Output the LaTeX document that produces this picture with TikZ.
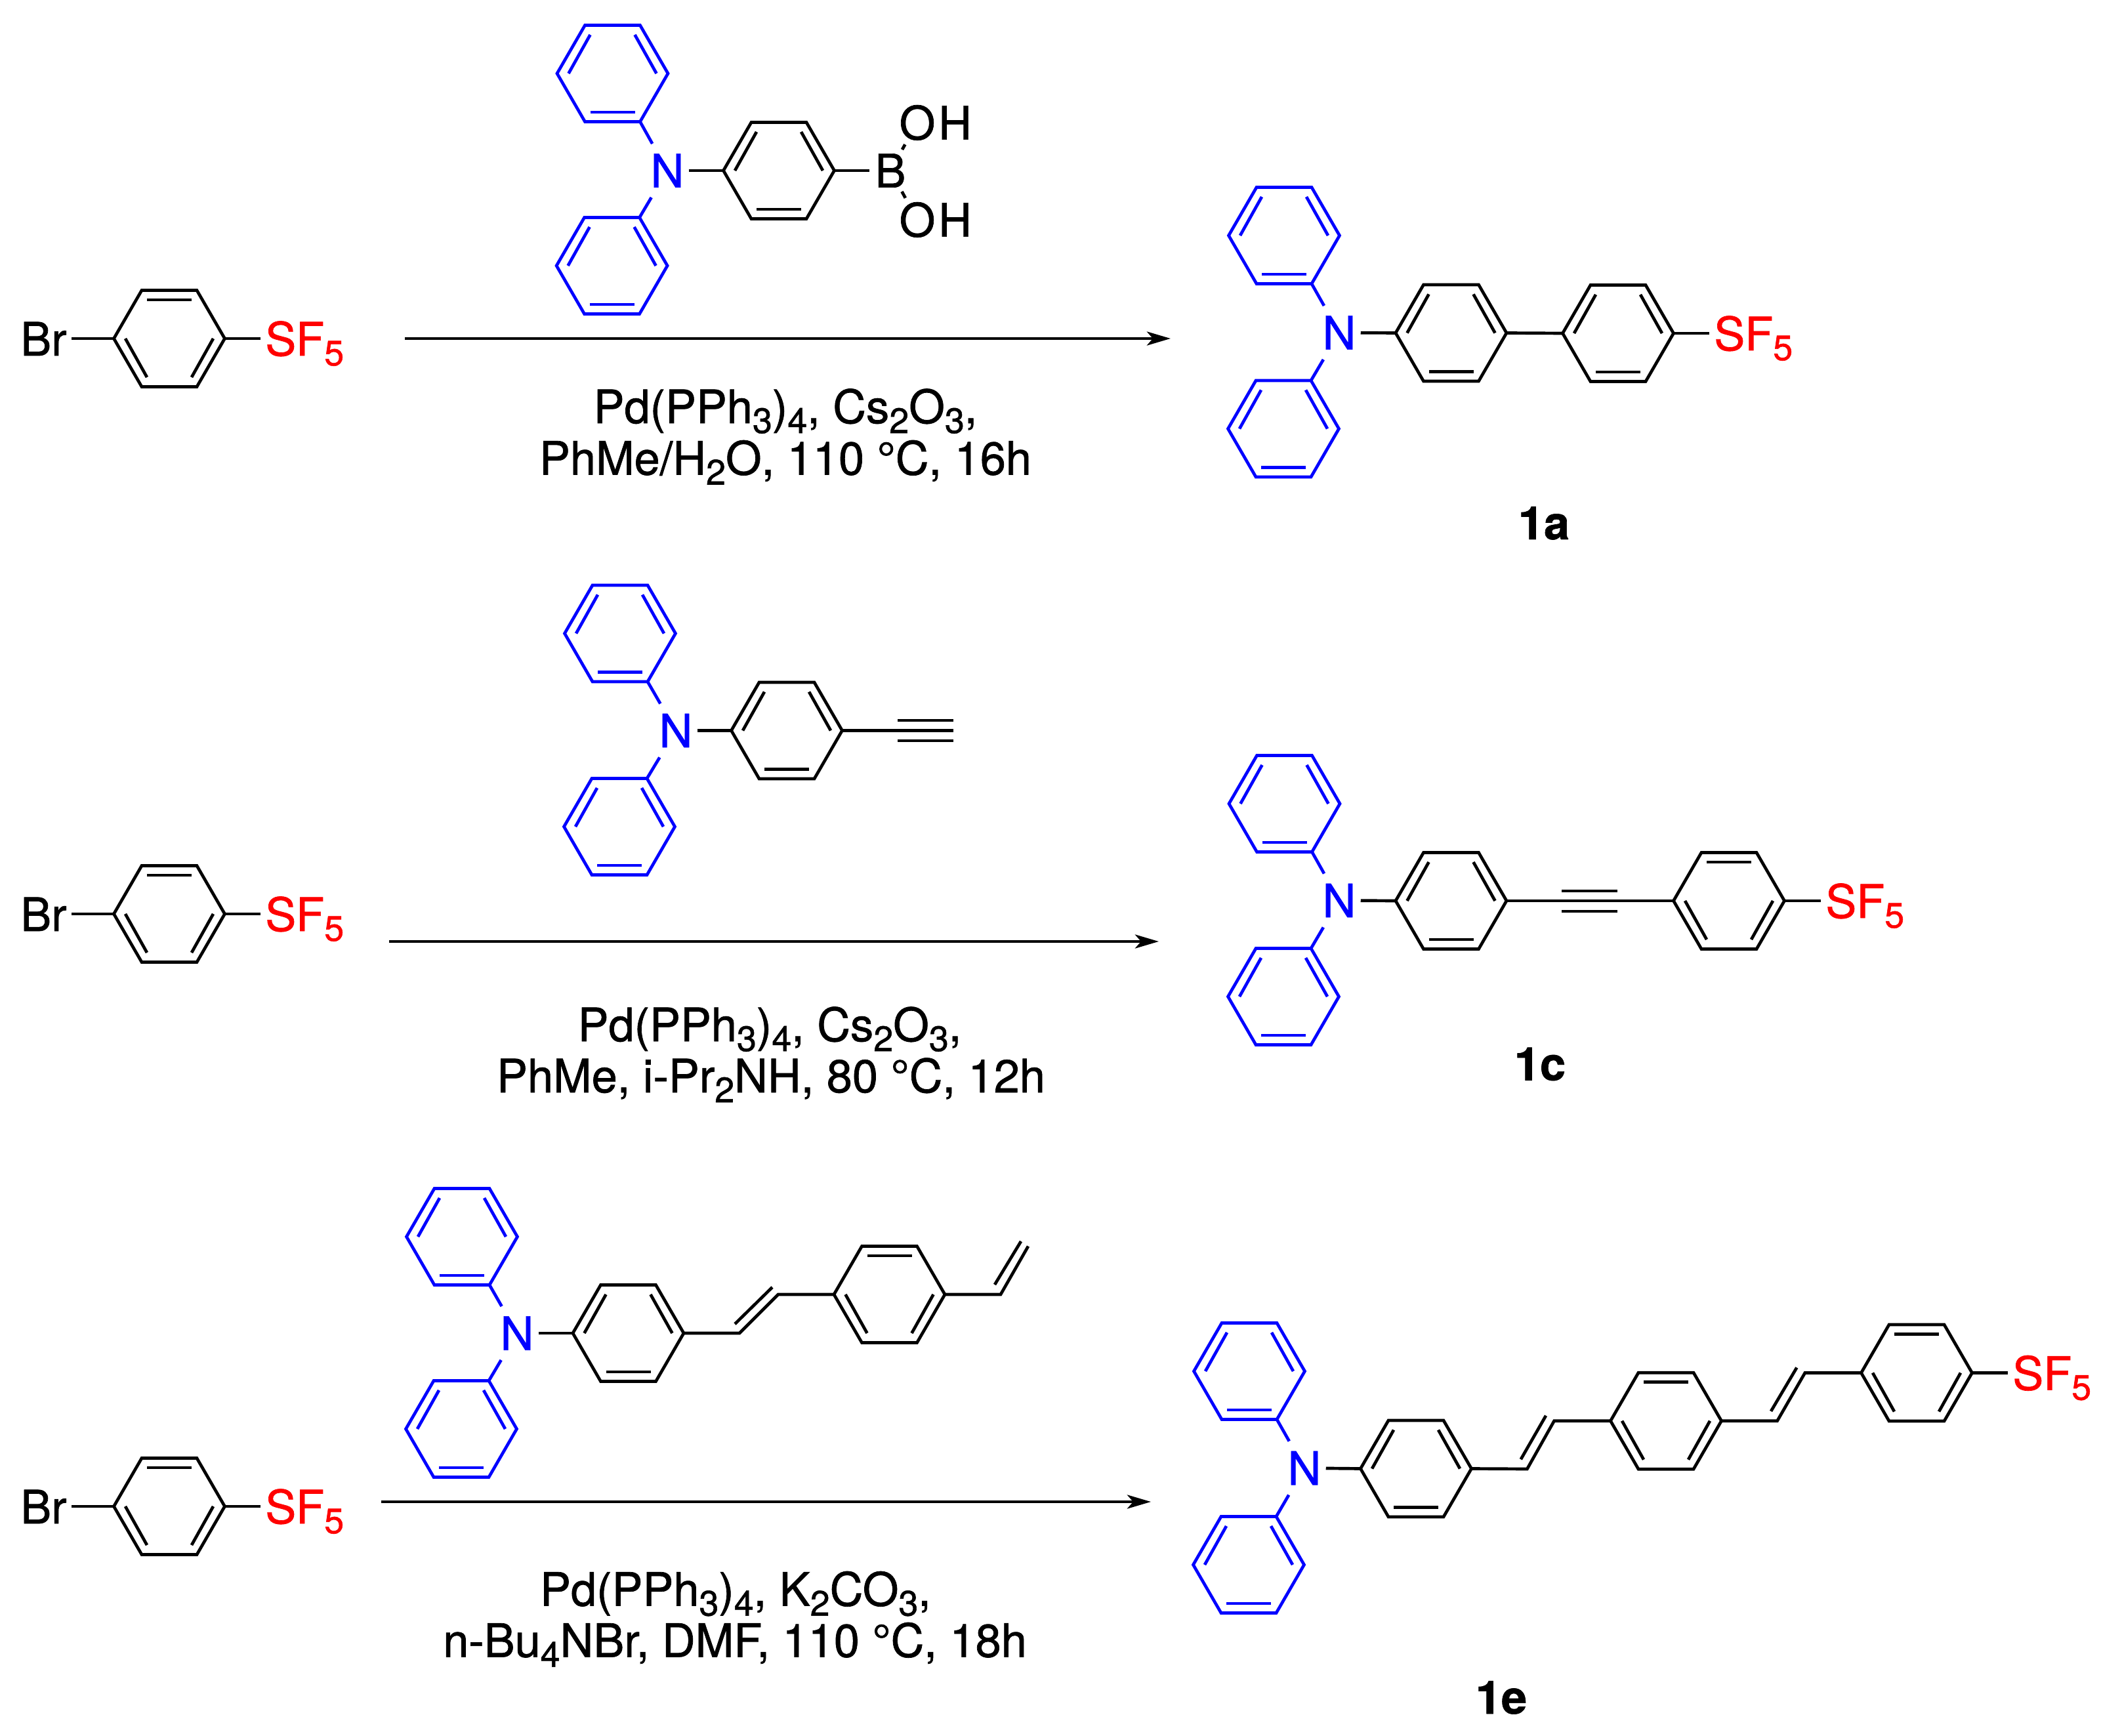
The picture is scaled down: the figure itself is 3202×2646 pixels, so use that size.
\documentclass[tikz,border=0pt]{standalone}
\usepackage{fontspec}
\setmainfont{TeX Gyre Heros}[RawFeature={embolden=1}]
\usetikzlibrary{positioning,arrows.meta}
\definecolor{nblue}{RGB}{0,0,255}
\definecolor{fred}{RGB}{255,0,0}
\newcommand{\lowr}[1]{\raisebox{-.15cm}{\fontsize{15.3}{15.3}\selectfont #1}}
\newcommand{\benz}[5][black]{%
\coordinate (#2l) at (#3-84.5,#4);
\coordinate (#2r) at (#3+84.5,#4);
\coordinate (#2tl) at (#3-42,#4-73.5);
\coordinate (#2tr) at (#3+42,#4-73.5);
\coordinate (#2bl) at (#3-42,#4+73.5);
\coordinate (#2br) at (#3+42,#4+73.5);
\draw[#1] (#2l)--(#2tl)--(#2tr)--(#2r)--(#2br)--(#2bl)--cycle;
\draw[#1] (#3-34,{#4-(#5)*59})--(#3+34,{#4-(#5)*59});
\draw[#1] (#3-67,#4)--(#3-34,{#4+(#5)*59});
\draw[#1] (#3+67,#4)--(#3+34,{#4+(#5)*59});}
\tikzset{
  every node/.style={font=\fontsize{20}{20}\selectfont,inner sep=0pt},
  atomN/.style={text=nblue,inner xsep=.05cm,inner ysep=.13cm},
  atomB/.style={inner xsep=.06cm,inner ysep=.04cm},
  atomO/.style={inner xsep=0pt,inner ysep=.04cm},
  sfive/.style={text=fred,anchor=base west,inner xsep=.05cm},
  brom/.style={anchor=base east,inner xsep=.05cm},
  cond/.style={anchor=base},
  cmpd/.style={anchor=base,font=\fontsize{20}{20}\selectfont\bfseries},
  rxn/.style={-{Stealth[length=.36cm,width=.21cm,inset=.09cm]}}
}
\begin{document}
\begin{tikzpicture}[x=.01cm,y=-.01cm,line width=1.33pt]
\useasboundingbox (0,0) rectangle (3202,2646);
\benz{ba}{258}{516}{1}
\node[brom] (bra) at (109,542) {Br};
\node[sfive] (sfa) at (397,542) {SF\lowr{5}};
\draw (bal)--(bal-|bra.east);
\draw (bar)--(bar-|sfa.west);
\benz[nblue]{pa}{933.5}{112}{-1}
\benz[nblue]{pb}{932.6}{405}{-1}
\benz{ca}{1187}{260}{-1}
\node[atomN] (na) at (1017,260) {N};
\draw[nblue] (pabr)--(na);
\draw[nblue] (na)--(pbtr);
\draw (na)--(cal);
\node[atomB] (boron) at (1357,260) {B};
\node[atomO] (oa) at (1398,187) {O};
\node[atomO,base right=0pt of oa] (ha) {H};
\node[atomO] (ob) at (1398,335) {O};
\node[atomO,base right=0pt of ob] (hb) {H};
\draw (car)--(boron);
\draw (boron)--(oa);
\draw (boron)--(ob);
\coordinate (arra) at (617,516);
\coordinate (arrb) at (1784,516);
\draw[rxn] (arra)--(arrb);
\node[cond] (ta) at (1197,645) {Pd(PPh\lowr{3})\lowr{4}, Cs\lowr{2}O\lowr{3},};
\node[cond] (tb) at (1197,723.5) {PhMe/H\lowr{2}O, 110 °C, 16h};
\benz[nblue]{qa}{1957}{359}{-1}
\benz[nblue]{qb}{1956}{653.5}{-1}
\benz{qc}{2211.5}{507.5}{-1}
\benz{qd}{2466}{508}{-1}
\node[atomN] (nb) at (2041,507) {N};
\node[sfive] (sfb) at (2605,534) {SF\lowr{5}};
\draw[nblue] (qabr)--(nb);
\draw[nblue] (nb)--(qbtr);
\draw (nb)--(qcl);
\draw (qcr)--(qdl);
\draw (qdr)--(qdr-|sfb.west);
\node[cmpd] (la) at (2353,822) {1a};
\benz{bb}{258}{1393}{1}
\node[brom] (brb) at (109,1419) {Br};
\node[sfive] (sfc) at (397,1419) {SF\lowr{5}};
\draw (bbl)--(bbl-|brb.east);
\draw (bbr)--(bbr-|sfc.west);
\benz[nblue]{pc}{945}{965.5}{-1}
\benz[nblue]{pd}{944}{1260}{-1}
\benz{cb}{1199}{1113.5}{-1}
\node[atomN] (nc) at (1030,1113.5) {N};
\draw[nblue] (pcbr)--(nc);
\draw[nblue] (nc)--(pdtr);
\draw (nc)--(cbl);
\coordinate (yna) at (1453,1113.5);
\draw (cbr)--(yna);
\draw (1368,1098)--(1453,1098);
\draw (1368,1129)--(1453,1129);
\coordinate (arrc) at (593,1435);
\coordinate (arrd) at (1766,1435);
\draw[rxn] (arrc)--(arrd);
\node[cond] (tc) at (1173,1587) {Pd(PPh\lowr{3})\lowr{4}, Cs\lowr{2}O\lowr{3},};
\node[cond] (td) at (1175,1665) {PhMe, i-Pr\lowr{2}NH, 80 °C, 12h};
\benz[nblue]{qe}{1957.5}{1225}{-1}
\benz[nblue]{qf}{1956}{1519}{-1}
\benz{qg}{2211.5}{1373}{-1}
\benz{qh}{2635}{1373}{1}
\node[atomN] (nd) at (2041,1372.5) {N};
\node[sfive] (sfd) at (2775,1399) {SF\lowr{5}};
\draw[nblue] (qebr)--(nd);
\draw[nblue] (nd)--(qftr);
\draw (nd)--(qgl);
\draw (qgr)--(qhl);
\draw (2380,1358)--(2464.5,1358);
\draw (2380,1389)--(2464.5,1389);
\draw (qhr)--(qhr-|sfd.west);
\node[cmpd] (lb) at (2347,1646.5) {1c};
\benz{bc}{258}{2296}{1}
\node[brom] (brc) at (109,2322) {Br};
\node[sfive] (sfe) at (397,2322) {SF\lowr{5}};
\draw (bcl)--(bcl-|brc.east);
\draw (bcr)--(bcr-|sfe.west);
\benz[nblue]{pe}{704}{1885}{-1}
\benz[nblue]{pf}{703}{2178}{-1}
\benz{cc}{957.5}{2032}{-1}
\benz{cd}{1355.5}{1973}{1}
\node[atomN] (ne) at (788,2032) {N};
\draw[nblue] (pebr)--(ne);
\draw[nblue] (ne)--(pftr);
\draw (ne)--(ccl);
\coordinate (va) at (1127,2032);
\coordinate (vb) at (1186,1973);
\draw (ccr)--(va)--(vb)--(cdl);
\draw (1120,2018)--(1177,1962);
\coordinate (vc) at (1525,1973);
\coordinate (vd) at (1567,1899.5);
\draw (cdr)--(vc)--(vd);
\draw (1516,1958)--(1556,1892);
\coordinate (arre) at (581,2289);
\coordinate (arrf) at (1754,2289);
\draw[rxn] (arre)--(arrf);
\node[cond] (te) at (1121,2447.5) {Pd(PPh\lowr{3})\lowr{4}, K\lowr{2}CO\lowr{3},};
\node[cond] (tf) at (1120,2525.5) {n-Bu\lowr{4}NBr, DMF, 110 °C, 18h};
\benz[nblue]{qi}{1904}{2090}{-1}
\benz[nblue]{qj}{1903}{2385}{-1}
\benz{qk}{2158}{2238.5}{-1}
\benz{ql}{2539}{2165.7}{1}
\benz{qm}{2921}{2092.5}{1}
\node[atomN] (nf) at (1988,2237.6) {N};
\node[sfive] (sff) at (3060,2118.5) {SF\lowr{5}};
\draw[nblue] (qibr)--(nf);
\draw[nblue] (nf)--(qjtr);
\draw (nf)--(qkl);
\coordinate (ve) at (2327.4,2239);
\coordinate (vf) at (2368.6,2165.7);
\draw (qkr)--(ve)--(vf)--(qll);
\draw (2317.8,2224.3)--(2356,2157.7);
\coordinate (vg) at (2708.6,2165.7);
\coordinate (vh) at (2750.8,2092.5);
\draw (qlr)--(vg)--(vh)--(qml);
\draw (2699,2151)--(2738.3,2084.5);
\draw (qmr)--(qmr-|sff.west);
\node[cmpd] (lc) at (2288,2612) {1e};
\end{tikzpicture}
\end{document}
